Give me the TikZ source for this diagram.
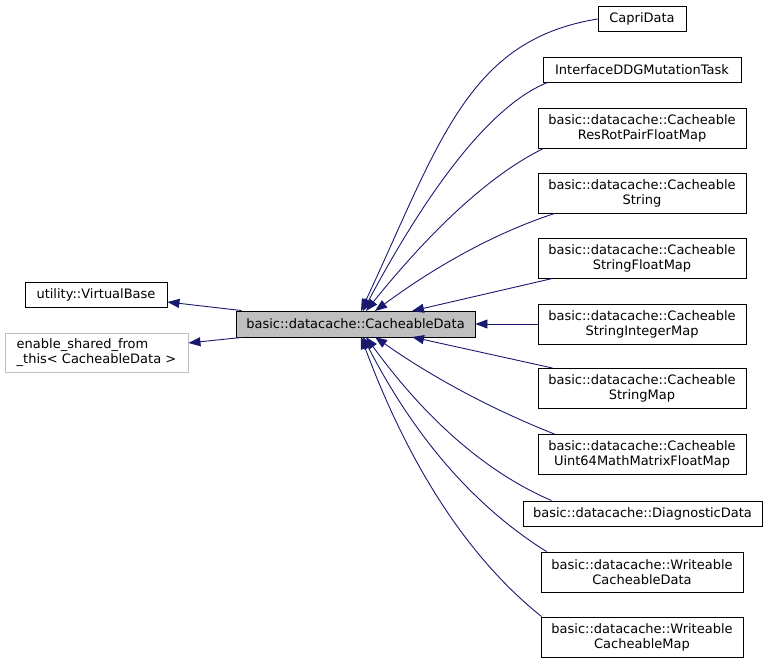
\documentclass[tikz,border=0pt]{standalone}
\usepackage{fontspec}
\setmainfont{DejaVu Sans}
\usetikzlibrary{arrows.meta}
\definecolor{edgeblue}{HTML}{191970}
\definecolor{boxgray}{HTML}{BFBFBF}
\tikzset{
  cls/.style={draw=black, line width=0.9pt, inner sep=0pt, font=\fontsize{13}{15}\selectfont, align=center},
  ext/.style={draw=boxgray, line width=0.9pt, inner ysep=0pt, inner xsep=10pt, font=\fontsize{13}{15}\selectfont, align=left},
  inh/.style={draw=edgeblue, line width=0.9pt, -{Triangle[length=12pt,width=9pt]}}
}
\begin{document}
\begin{tikzpicture}[x=1pt,y=-1pt]
\useasboundingbox (0,0) rectangle (767,663);
% central
\node[cls, fill=boxgray, minimum width=239pt, minimum height=26pt] (cd) at (355.5,324) {basic::datacache::CacheableData};
% left
\node[cls, minimum width=142pt, minimum height=25pt] (vb) at (96,294.5) {utility::VirtualBase};
\node[ext, minimum width=183pt, minimum height=39pt] (es) at (96.5,352.5) {enable\_shared\_from\\\_this< CacheableData >};
% right
\node[cls, minimum width=88pt, minimum height=25pt] (capri) at (642,19) {CapriData};
\node[cls, minimum width=198pt, minimum height=25pt] (iface) at (642,69.5) {InterfaceDDGMutationTask};
\node[cls, minimum width=208pt, minimum height=40pt] (rr) at (642,128) {basic::datacache::Cacheable\\ResRotPairFloatMap};
\node[cls, minimum width=208pt, minimum height=40pt] (st) at (642,193) {basic::datacache::Cacheable\\String};
\node[cls, minimum width=208pt, minimum height=40pt] (sfm) at (642,258) {basic::datacache::Cacheable\\StringFloatMap};
\node[cls, minimum width=208pt, minimum height=40pt] (sim) at (642,324) {basic::datacache::Cacheable\\StringIntegerMap};
\node[cls, minimum width=208pt, minimum height=40pt] (sm) at (642,388.5) {basic::datacache::Cacheable\\StringMap};
\node[cls, minimum width=208pt, minimum height=40pt] (um) at (642,454.5) {basic::datacache::Cacheable\\Uint64MathMatrixFloatMap};
\node[cls, minimum width=239pt, minimum height=25pt] (dd) at (642.5,513.5) {basic::datacache::DiagnosticData};
\node[cls, minimum width=202pt, minimum height=40pt] (wcd) at (642,572) {basic::datacache::Writeable\\CacheableData};
\node[cls, minimum width=202pt, minimum height=40pt] (wcm) at (642,637) {basic::datacache::Writeable\\CacheableMap};
% end points on the central node
\coordinate (t1) at (361,311);
\coordinate (t2) at (363,311);
\coordinate (t3) at (366,311);
\coordinate (t4) at (375,311);
\coordinate (t5) at (412,311);
\coordinate (b1) at (361,337);
\coordinate (b2) at (363,337);
\coordinate (b3) at (366,337);
\coordinate (b4) at (375,337);
\coordinate (b5) at (412,337);
% edges to the left
\draw[inh] ([xshift=6pt]cd.north west) -- ([yshift=-7.5pt]vb.east);
\draw[inh] ([xshift=6pt]cd.south west) -- ([yshift=9.5pt]es.east);
% edges from the right
\draw[inh] (capri.west) .. controls (468,40) and (440,141) .. (t1);
\draw[inh] ([xshift=5pt]iface.south west) .. controls (494,104) and (433,180) .. (t2);
\draw[inh] ([xshift=6pt]rr.south west) .. controls (491,174) and (432,229) .. (t3);
\draw[inh] ([xshift=17pt]st.south west) .. controls (495,233) and (436,266) .. (t4);
\draw[inh] ([xshift=15pt]sfm.south west) -- (t5);
\draw[inh] (sim.west) -- (cd.east);
\draw[inh] ([xshift=15pt]sm.north west) -- (b5);
\draw[inh] ([xshift=17pt]um.north west) .. controls (491,409) and (432,377) .. (b4);
\draw[inh] ([xshift=29pt]dd.north west) .. controls (485,472) and (425,418) .. (b3);
\draw[inh] ([xshift=6pt]wcd.north west) .. controls (472,505) and (413,434) .. (b2);
\draw[inh] ([xshift=1pt]wcm.north west) .. controls (466,556) and (408,463) .. (b1);
\end{tikzpicture}
\end{document}
